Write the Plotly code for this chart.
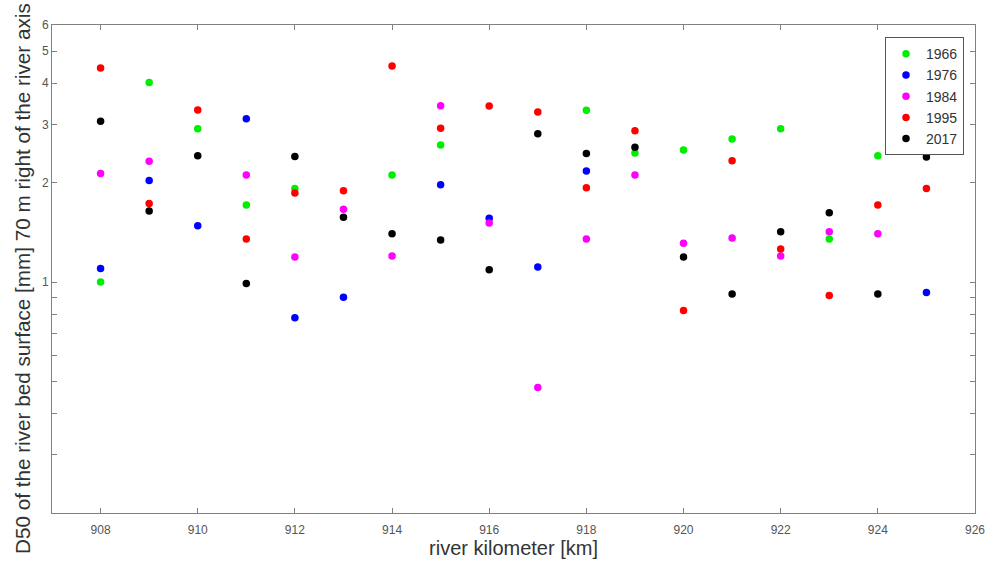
import plotly.graph_objects as go

km = list(range(908, 926))

d1966 = [1.00, 4.02, 2.91, 1.71, 1.92, None, 2.11, 2.60, None, None, 3.31, 2.46, 2.51, 2.71, 2.91, 1.35, 2.41, None]
d1976 = [1.10, 2.03, 1.48, 3.12, 0.78, 0.90, None, 1.97, 1.56, 1.11, 2.17, None, None, None, None, None, None, 0.93]
d1984 = [2.13, 2.32, None, 2.11, 1.19, 1.66, 1.20, 3.42, 1.51, 0.48, 1.35, 2.11, 1.31, 1.36, 1.20, 1.42, 1.40, None]
d1995 = [4.45, 1.73, 3.32, 1.35, 1.86, 1.89, 4.51, 2.92, 3.41, 3.27, 1.93, 2.87, 0.82, 2.33, 1.26, 0.91, 1.71, 1.92]
d2017 = [3.07, 1.64, 2.41, 0.99, 2.40, 1.57, 1.40, 1.34, 1.09, 2.81, 2.45, 2.56, 1.19, 0.92, 1.42, 1.62, 0.92, 2.39]

series = [("1966", d1966, "#00ee00"), ("1976", d1976, "#0000ff"), ("1984", d1984, "#ff00ff"),
          ("1995", d1995, "#ff0000"), ("2017", d2017, "#000000")]

xticks = list(range(908, 927, 2))
yticks = [0.3, 0.4, 0.5, 0.6, 0.7, 0.8, 0.9, 1, 2, 3, 4, 5, 6]
ytext = ["", "", "", "", "", "", "", "1", "2", "3", "4", "5", "6"]

fig = go.Figure()
for name, vals, col in series:
    xs = [k for k, v in zip(km, vals) if v is not None]
    ys = [v for v in vals if v is not None]
    fig.add_trace(go.Scatter(x=xs, y=ys, mode="markers", name=name,
                             marker=dict(color=col, size=7.5, line=dict(width=0))))

axis_common = dict(showgrid=False, zeroline=False, showline=True, linecolor="#808080", linewidth=1,
                   mirror="ticks", ticks="inside", ticklen=5, tickcolor="#808080",
                   tickfont=dict(family="Liberation Sans, Arial", size=12, color="#555555"))

fig.update_layout(
    width=989, height=562,
    margin=dict(l=52, r=14, t=25, b=49, autoexpand=False),
    paper_bgcolor="white", plot_bgcolor="white",
    xaxis=dict(range=[907, 926], tickvals=xticks, ticklabelstandoff=6, automargin=False,
               title=dict(text="river kilometer [km]", standoff=4,
                          font=dict(family="Liberation Sans, Arial", size=20, color="#333333")),
               **axis_common),
    yaxis=dict(type="log", range=[-0.69897, 0.778151], tickvals=yticks, ticktext=ytext, automargin=False,
               **axis_common),
    legend=dict(x=0.9025, y=0.975, xanchor="left", yanchor="top",
                bgcolor="white", bordercolor="#555555", borderwidth=1,
                font=dict(family="Liberation Sans, Arial", size=14, color="#333333")),
    showlegend=True,
)

fig.add_annotation(text="D50 of the river bed surface [mm] 70 m right of the river axis",
                   xref="paper", yref="paper", x=0, y=0.4795, xanchor="center", yanchor="middle",
                   xshift=-30, textangle=-90, showarrow=False,
                   font=dict(family="Liberation Sans, Arial", size=20.7, color="#333333"))

fig.write_html("out.html")
